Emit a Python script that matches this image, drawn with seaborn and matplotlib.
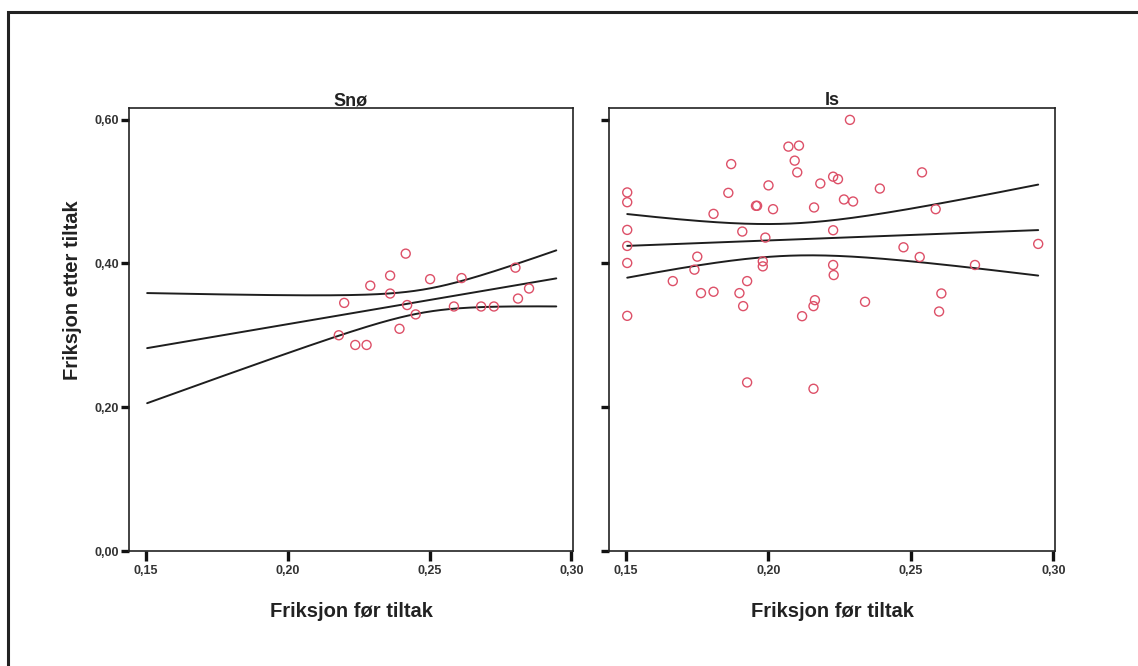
import numpy as np
import pandas as pd
import matplotlib
matplotlib.use("Agg")
import matplotlib.pyplot as plt
from matplotlib.ticker import FuncFormatter, FixedLocator
from matplotlib.patches import Rectangle
import seaborn as sns

# ---------------- data ----------------
panels = ["Snø", "Is"]

sno_x = [0.2416, 0.2803, 0.2361, 0.2291, 0.2502, 0.2613, 0.2851, 0.2361, 0.2199, 0.2812,
         0.2421, 0.2586, 0.2682, 0.2727, 0.2451, 0.2394, 0.2180, 0.2238, 0.2278]
sno_y = [0.4135, 0.394, 0.383, 0.369, 0.378, 0.3795, 0.365, 0.358, 0.345, 0.351,
         0.342, 0.340, 0.340, 0.340, 0.329, 0.309, 0.300, 0.2865, 0.2865]

is_x = [0.2286, 0.2070, 0.2107, 0.2092, 0.1869, 0.2101, 0.2539, 0.2227, 0.2244, 0.2182,
        0.2000, 0.2391, 0.1859, 0.1504, 0.1504, 0.2265, 0.2297, 0.1956, 0.1960, 0.2016,
        0.2160, 0.2587, 0.1807, 0.1504, 0.1908, 0.2227, 0.1989, 0.1504, 0.2947, 0.2474,
        0.1750, 0.2531, 0.1504, 0.1980, 0.1980, 0.2227, 0.2725, 0.1740, 0.2229, 0.1664,
        0.1925, 0.1763, 0.1807, 0.1898, 0.2163, 0.2158, 0.2339, 0.2607, 0.1911, 0.1504,
        0.2118, 0.2599, 0.1925, 0.2158]
is_y = [0.5995, 0.5623, 0.5637, 0.5428, 0.538, 0.5265, 0.5265, 0.5205, 0.517, 0.511,
        0.5084, 0.504, 0.498, 0.4986, 0.485, 0.4888, 0.486, 0.480, 0.480, 0.4753,
        0.4777, 0.4753, 0.4688, 0.4465, 0.4442, 0.446, 0.4358, 0.4242, 0.427, 0.4223,
        0.4093, 0.4088, 0.4005, 0.4028, 0.3958, 0.3977, 0.3977, 0.3912, 0.3837, 0.3753,
        0.3753, 0.3586, 0.3605, 0.3586, 0.3488, 0.3405, 0.3465, 0.3581, 0.3405, 0.327,
        0.3265, 0.333, 0.2344, 0.2256]

x_ticks = [0.15, 0.20, 0.25, 0.30]
y_ticks = [0.00, 0.20, 0.40, 0.60]
x_label = "Friksjon før tiltak"
y_label = "Friksjon etter tiltak"

df = pd.DataFrame({
    "Underlag": ["Snø"] * len(sno_x) + ["Is"] * len(is_x),
    "for": sno_x + is_x,
    "etter": sno_y + is_y,
})

# ---------------- helpers ----------------
def t_quantile(p, dof):
    # inverse normal (rational approx) then Cornish-Fisher expansion for Student t
    q = p - 0.5
    r = q * q
    a = [-3.969683028665376e+01, 2.209460984245205e+02, -2.759285104469687e+02,
         1.383577518672690e+02, -3.066479806614716e+01, 2.506628277459239e+00]
    b = [-5.447609879822406e+01, 1.615858368580409e+02, -1.556989798598866e+02,
         6.680131188771972e+01, -1.328068155288572e+01]
    z = (((((a[0]*r+a[1])*r+a[2])*r+a[3])*r+a[4])*r+a[5])*q / \
        (((((b[0]*r+b[1])*r+b[2])*r+b[3])*r+b[4])*r+1)
    n = dof
    return (z + (z**3 + z) / (4*n) + (5*z**5 + 16*z**3 + 3*z) / (96*n**2)
            + (3*z**7 + 19*z**5 + 17*z**3 - 15*z) / (384*n**3))

def fit_with_ci(x, y, grid):
    x = np.asarray(x); y = np.asarray(y)
    n = len(x)
    b1, b0 = np.polyfit(x, y, 1)
    resid = y - (b0 + b1 * x)
    s = np.sqrt(np.sum(resid**2) / (n - 2))
    sxx = np.sum((x - x.mean())**2)
    t = t_quantile(0.975, n - 2)
    yhat = b0 + b1 * grid
    half = t * s * np.sqrt(1.0 / n + (grid - x.mean())**2 / sxx)
    return yhat, yhat - half, yhat + half

# ---------------- figure ----------------
sns.set_theme(style="white")
plt.rcParams["font.family"] = ["Liberation Sans", "DejaVu Sans"]

W, H = 1138, 666
fig = plt.figure(figsize=(W / 100, H / 100), dpi=100)
fig.patch.set_facecolor("white")

ax_pos = [
    [129 / W, 1 - 551 / H, (573 - 129) / W, (551 - 108) / H],
    [609 / W, 1 - 551 / H, (1055 - 609) / W, (551 - 108) / H],
]

grid = np.linspace(df["for"].min(), df["for"].max(), 200)
fmt = FuncFormatter(lambda v, p: f"{v:.2f}".replace(".", ","))
point_color = "#dd5068"
line_color = "#1e1e1e"

for i, name in enumerate(panels):
    ax = fig.add_axes(ax_pos[i])
    sub = df[df["Underlag"] == name]
    sns.scatterplot(data=sub, x="for", y="etter", ax=ax, marker="o", s=42,
                    facecolors="none", edgecolor=point_color, linewidth=1.0,
                    legend=False, zorder=3)
    yhat, lo, hi = fit_with_ci(sub["for"].values, sub["etter"].values, grid)
    for yy in (hi, yhat, lo):
        sns.lineplot(x=grid, y=yy, ax=ax, color=line_color, linewidth=1.4,
                     zorder=2, legend=False)
    ax.set_xlim(0.144, 0.3006)
    ax.set_ylim(0.0, 0.616)
    ax.xaxis.set_major_locator(FixedLocator(x_ticks))
    ax.yaxis.set_major_locator(FixedLocator(y_ticks))
    ax.xaxis.set_major_formatter(fmt)
    ax.yaxis.set_major_formatter(fmt)
    ax.tick_params(axis="x", which="major", direction="out", length=7, width=2.4,
                   color="#111111", labelsize=9, labelcolor="#333333", pad=3,
                   bottom=True)
    ax.tick_params(axis="y", which="major", direction="out", length=6, width=2.4,
                   color="#111111", labelsize=9, labelcolor="#333333", pad=1,
                   left=True)
    for lab in ax.get_xticklabels() + ax.get_yticklabels():
        lab.set_fontweight("bold")
    if i == 1:
        ax.tick_params(axis="y", labelleft=False)
    for side, sp in ax.spines.items():
        sp.set_visible(True)
        sp.set_color("#222222")
        sp.set_linewidth(1.2)
    ax.set_xlabel(x_label, fontsize=14.5, fontweight="bold", color="#222222", labelpad=18)
    ax.set_ylabel("")
    ax.set_title(name, fontsize=13, fontweight="bold", color="#222222", pad=2)
    ax.set_facecolor("white")

fig.text(73 / W, 1 - 290 / H, y_label, rotation=90, ha="center", va="center",
         fontsize=14.5, fontweight="bold", color="#222222")

# outer frame (scanned page border)
fig.patches.append(Rectangle((8 / W, -0.05), 1.2, 1 - 12 / H + 0.05,
                             transform=fig.transFigure, fill=False,
                             edgecolor="#222222", linewidth=2.2))

fig.savefig("out.png", dpi=100, facecolor="white")
